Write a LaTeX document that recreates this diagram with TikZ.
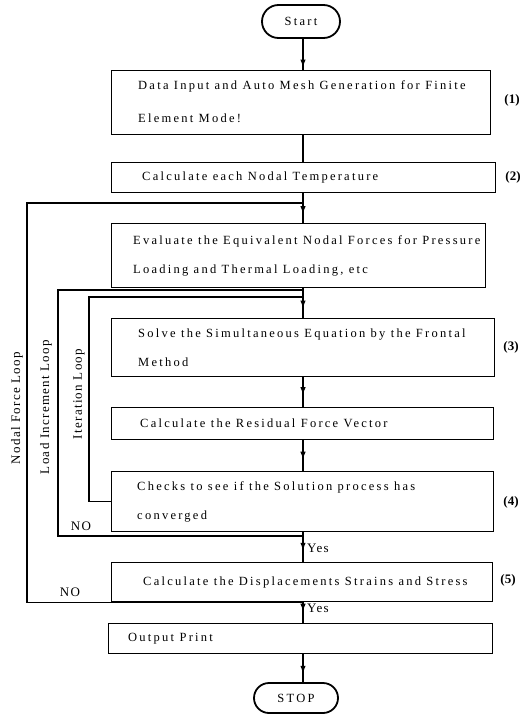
\documentclass[tikz,border=0pt]{standalone}
\usepackage{fontspec}
\setmainfont{Liberation Serif}
\newfontfamily\boxfont[LetterSpace=18]{Liberation Serif}
\newfontfamily\lblfont[LetterSpace=10]{Liberation Serif}
\usetikzlibrary{arrows.meta,decorations.markings,shapes.misc}
\begin{document}
\begin{tikzpicture}[x=1pt,y=-1pt,
  box/.style={draw, line width=1.4pt, rectangle, anchor=north west, inner sep=0pt},
  term/.style={draw, line width=1.8pt, rounded rectangle, inner sep=0pt, font=\boxfont\fontsize{12.5}{14}\selectfont},
  txt/.style={anchor=west, align=left, inner sep=0pt, font=\boxfont\fontsize{12.5}{14}\selectfont},
  lbl/.style={inner sep=0pt, font=\lblfont\fontsize{13}{15}\selectfont},
  num/.style={inner sep=0pt, font=\fontsize{13}{15}\selectfont\bfseries},
  flow/.style={line width=1.4pt},
  midarrow/.style={postaction={decorate},decoration={markings,mark=at position #1 with {\arrow{Latex[length=8pt,width=5.5pt]}}}}
]
\useasboundingbox (0,0) rectangle (527,715);
\coordinate (cx) at (303,0);
\coordinate (nl) at (27,0);
\coordinate (ll) at (58,0);
\coordinate (il) at (89,0);
\coordinate (j1) at (303,203);
\coordinate (j2) at (303,290);
\coordinate (j3) at (303,297);
\coordinate (j4) at (303,536);

% terminals
\node[term, minimum width=78pt, minimum height=33pt] (start) at (301,21.5) {Start};
\node[term, minimum width=84pt, minimum height=30pt] (stop) at (296,698) {STOP};

% boxes
\node[box, minimum width=379pt, minimum height=64pt] (b1) at (111,70) {};
\node[txt] (t1) at ([xshift=27pt,yshift=1pt]b1.west) {Data Input and Auto Mesh Generation for Finite\\[19pt]Element Mode!};
\node[box, minimum width=384pt, minimum height=30pt] (b2) at (111,162) {};
\node[txt] (t2) at ([xshift=31pt]b2.west) {Calculate each Nodal Temperature};
\node[box, minimum width=374pt, minimum height=64pt] (b3) at (111,223) {};
\node[txt] (t3) at ([xshift=22pt]b3.west) {Evaluate the Equivalent Nodal Forces for Pressure\\[15pt]Loading and Thermal Loading, etc};
\node[box, minimum width=383pt, minimum height=58pt] (b4) at (111,318) {};
\node[txt] (t4) at ([xshift=27pt]b4.west) {Solve the Simultaneous Equation by the Frontal\\[15pt]Method};
\node[box, minimum width=382pt, minimum height=32pt] (b5) at (111,407) {};
\node[txt] (t5) at ([xshift=29pt]b5.west) {Calculate the Residual Force Vector};
\node[box, minimum width=382pt, minimum height=60pt] (b6) at (111,471) {};
\node[txt] (t6) at ([xshift=26pt]b6.west) {Checks to see if the Solution process has\\[15pt]converged};
\node[box, minimum width=381pt, minimum height=39pt] (b7) at (111,562) {};
\node[txt] (t7) at ([xshift=32pt]b7.west) {Calculate the Displacements Strains and Stress};
\node[box, minimum width=384pt, minimum height=30pt] (b8) at (108,623) {};
\node[txt] (t8) at ([xshift=20pt]b8.west) {Output Print};

% numbers
\node[num] (n1) at (512,100) {(1)};
\node[num] (n2) at (513,177) {(2)};
\node[num] (n3) at (511,347) {(3)};
\node[num] (n4) at (511,502) {(4)};
\node[num] (n5) at (508,580) {(5)};

% main flow
\draw[flow, midarrow=0.92] (start.south -| cx) -- (b1.north -| cx);
\draw[flow] (b1.south -| cx) -- (b2.north -| cx);
\draw[flow, midarrow=0.7] (b2.south -| cx) -- (b3.north -| cx);
\draw[flow, midarrow=0.68] (b3.south -| cx) -- (b4.north -| cx);
\draw[flow, midarrow=0.6] (b4.south -| cx) -- (b5.north -| cx);
\draw[flow, midarrow=0.63] (b5.south -| cx) -- (b6.north -| cx);
\draw[flow, midarrow=0.62] (b6.south -| cx) -- (b7.north -| cx);
\draw[flow, midarrow=0.45] (b7.south -| cx) -- (b8.north -| cx);
\draw[flow, midarrow=0.7] (b8.south -| cx) -- (stop.north -| cx);

% loops
\draw[flow] (b7.south -| cx) -- (b7.south -| nl) |- (j1);
\draw[flow] (j4) -- (j4 -| ll) |- (j2);
\draw[flow] (b6.west) -- (b6.west -| il) |- (j3);

% loop labels
\node[lbl, rotate=90] (lnf) at (17,408) {Nodal Force Loop};
\node[lbl, rotate=90] (lli) at (46,407) {Load Increment Loop};
\node[lbl, rotate=90] (lit) at (79,394) {Iteration Loop};
\node[lbl] (no1) at (81,526) {NO};
\node[lbl] (no2) at (70,592) {NO};
\node[lbl, anchor=west] (yes1) at (307,548) {Yes};
\node[lbl, anchor=west] (yes2) at (307,608) {Yes};
\end{tikzpicture}
\end{document}
